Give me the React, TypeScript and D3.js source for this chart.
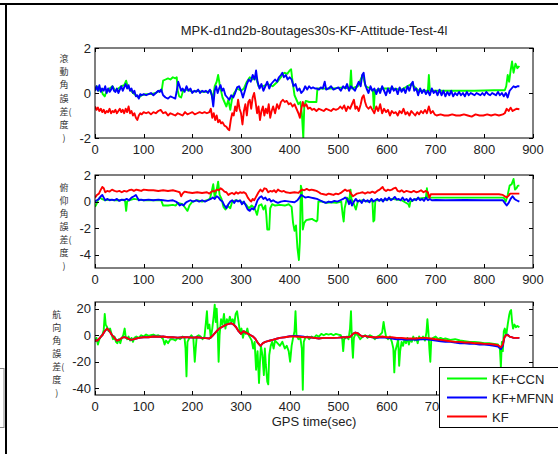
import { useRef, useEffect } from 'react';
import * as d3 from 'd3';

const TITLE = 'MPK-d1nd2b-8outages30s-KF-Attitude-Test-4l';
const X_LABEL = 'GPS time(sec)';
const X_TICKS = [0, 100, 200, 300, 400, 500, 600, 700, 800, 900];
const SERIES_NAMES = ['KF+CCN', 'KF+MFNN', 'KF'];
const SERIES_COLORS = ['#00ff00', '#0000ff', '#ff0000'];

// one entry per stacked row of the vertical axis label
const ROLL_LABEL = ['滾', '動', '角', '誤', '差(', '度', ')'];
const PITCH_LABEL = ['俯', '仰', '角', '誤', '差(', '度', ')'];
const YAW_LABEL = ['航', '向', '角', '誤', '差(', '度', ')'];

const ROLL_Y_TICKS = [-2, 0, 2];
const PITCH_Y_TICKS = [-4, -2, 0, 2];
const YAW_Y_TICKS = [-40, -20, 0, 20];

// [time, error] pairs
const rollCCN = [
  [0, 0.1], [4, 0.3], [8, 0.1], [12, 0.2], [16, -0.05], [20, -0.15], [24, 0.1], [30, 0.2], [36, 0.3], [42, 0.1],
  [48, 0.2], [54, 0.3], [60, 0.35], [64, 0.55], [67, 0.3], [72, 0.15], [78, 0.0], [84, -0.1], [90, -0.2], [96, -0.1],
  [105, -0.05], [115, -0.05], [125, 0.0], [132, 0.1], [137, 0.1], [140, 0.55], [145, 0.6], [150, 0.65], [155, 0.6], [160, 0.7],
  [165, 0.65], [168, 0.7], [170, 0.1], [173, -0.15], [177, -0.2], [181, 0.1], [190, 0.15], [200, 0.05], [210, 0.1], [220, 0.05],
  [230, 0.05], [238, 0.1], [242, -0.3], [246, 0.3], [250, 0.5], [253, 0.8], [256, 0.4], [259, 0.1], [262, -0.2], [266, -0.4],
  [270, -0.6], [274, -0.3], [278, -0.75], [282, -0.2], [286, 0.0], [292, 0.2], [300, 0.1], [306, 0.2], [312, 0.5], [318, 0.7],
  [324, 0.6], [330, 0.75], [336, 0.3], [345, 0.3], [355, 0.4], [365, 0.3], [375, 0.5], [382, 0.7], [386, 0.85], [390, 0.9],
  [395, 0.85], [400, 1.0], [403, 1.05], [406, 0.5], [410, -0.1], [414, -0.3], [418, -0.5], [422, -0.4], [425, -0.9], [428, -2.0],
  [430, -0.6], [433, -0.35], [440, -0.4], [448, -0.4], [455, -0.4], [457, 0.2], [470, 0.2], [490, 0.2], [510, 0.25], [522, 0.2],
  [524, 0.3], [526, 1.0], [528, 0.2], [540, 0.3], [550, 0.8], [556, 0.3], [566, 0.2], [571, 0.1], [573, -0.7], [575, 0.1],
  [590, 0.2], [610, 0.2], [630, 0.15], [650, 0.4], [665, 0.1], [680, 0.1], [684, 0.1], [686, 0.8], [688, 0.1], [700, 0.1],
  [740, 0.1], [780, 0.1], [820, 0.12], [842, 0.12], [845, 0.3], [848, 0.8], [851, 0.5], [854, 1.0], [857, 1.4], [860, 0.9],
  [864, 1.3], [868, 1.1], [872, 1.2],
];
const rollMFNN = [
  [0, 0.1], [3, 0.3], [6, 0.1], [9, 0.35], [12, 0.05], [15, 0.2], [18, 0.1], [21, 0.3], [24, 0.0], [27, 0.2],
  [30, 0.05], [33, 0.15], [36, 0.3], [39, 0.1], [42, 0.05], [45, 0.2], [48, 0.0], [51, 0.15], [54, 0.3], [57, 0.1],
  [60, 0.25], [63, 0.4], [66, 0.2], [69, 0.35], [72, 0.1], [75, 0.2], [78, 0.0], [81, 0.1], [84, -0.15], [87, -0.1],
  [90, -0.25], [93, -0.05], [96, -0.1], [100, -0.05], [105, -0.1], [110, -0.05], [115, 0.0], [120, -0.1], [125, 0.0], [130, 0.1],
  [133, 0.05], [136, 0.15], [140, -0.1], [145, -0.2], [150, -0.25], [155, -0.15], [160, -0.2], [165, -0.25], [168, 0.1], [171, 0.5],
  [174, 0.3], [177, 0.1], [180, 0.2], [184, 0.05], [188, 0.3], [192, 0.1], [196, 0.2], [200, 0.0], [204, 0.1], [208, 0.05],
  [212, 0.15], [216, 0.0], [220, 0.1], [224, 0.05], [228, 0.1], [232, 0.0], [236, 0.15], [240, -0.1], [243, -0.6], [246, 0.1],
  [249, 0.3], [252, 0.0], [255, 0.2], [258, 0.35], [261, 0.1], [264, 0.2], [268, -0.1], [272, -0.2], [276, -0.3], [280, -0.1],
  [284, -0.2], [288, 0.0], [292, 0.25], [296, 0.3], [300, 0.1], [304, -0.2], [308, 0.1], [312, 0.4], [316, 0.6], [320, 0.5],
  [324, 0.8], [328, 0.6], [331, 1.0], [334, 0.5], [338, 0.2], [342, 0.4], [346, 0.1], [350, 0.3], [354, 0.5], [358, 0.2],
  [362, 0.4], [366, 0.5], [370, 0.6], [374, 0.5], [378, 0.7], [382, 0.8], [385, 0.9], [388, 0.7], [392, 0.8], [396, 0.6],
  [400, 0.7], [404, 0.6], [408, 0.3], [412, 0.4], [416, 0.1], [420, 0.2], [424, 0.0], [428, 0.1], [432, 0.3], [436, 0.15],
  [440, 0.3], [444, 0.2], [448, 0.25], [452, 0.2], [456, 0.2], [460, 0.15], [464, 0.25], [468, 0.2], [472, 0.5], [475, 0.15],
  [480, 0.2], [485, 0.3], [490, 0.15], [495, 0.2], [500, 0.25], [505, 0.1], [510, 0.3], [514, 0.2], [518, 0.4], [522, 0.1],
  [526, 0.3], [530, 0.2], [534, 0.1], [538, 0.3], [542, 0.5], [546, 0.3], [549, 0.8], [552, 0.9], [555, 0.4], [558, 0.2],
  [562, 0.0], [566, 0.3], [570, 0.1], [574, 0.2], [578, -0.05], [582, 0.2], [586, 0.0], [590, 0.3], [594, 0.1], [598, -0.1],
  [602, 0.2], [606, 0.0], [610, 0.3], [614, 0.1], [618, 0.2], [622, -0.05], [626, 0.25], [630, 0.05], [634, 0.2], [638, 0.0],
  [642, 0.3], [646, 0.1], [650, 0.4], [653, 0.5], [656, 0.1], [660, 0.2], [664, -0.1], [668, 0.2], [672, 0.0], [676, 0.15],
  [680, -0.05], [684, 0.1], [688, -0.1], [692, 0.2], [696, 0.0], [700, 0.1], [704, -0.1], [708, 0.15], [712, -0.1], [716, 0.1],
  [720, -0.15], [724, 0.05], [728, -0.1], [732, 0.1], [736, -0.15], [740, 0.0], [744, -0.1], [748, 0.05], [752, -0.1], [756, 0.0],
  [760, -0.15], [764, 0.05], [768, -0.1], [772, 0.0], [776, -0.05], [780, -0.1], [784, 0.0], [788, -0.05], [792, -0.1], [796, 0.0],
  [800, -0.1], [804, 0.05], [808, -0.05], [812, -0.1], [816, 0.0], [820, -0.05], [824, -0.1], [828, 0.05], [832, -0.1], [836, 0.0],
  [840, -0.15], [844, 0.0], [848, -0.2], [852, 0.1], [856, 0.2], [860, 0.3], [864, 0.25], [868, 0.3], [872, 0.3],
];
const rollKF = [
  [0, -0.6], [3, -0.75], [6, -0.65], [9, -0.8], [12, -0.7], [15, -0.85], [18, -0.75], [21, -0.9], [24, -0.8], [27, -0.85],
  [30, -0.7], [33, -0.9], [36, -0.8], [39, -0.85], [42, -0.75], [45, -0.9], [48, -0.8], [51, -0.7], [54, -0.85], [57, -0.75],
  [60, -0.9], [63, -0.7], [66, -0.85], [69, -0.6], [72, -0.9], [75, -0.8], [78, -1.0], [81, -0.9], [84, -1.1], [87, -1.2],
  [90, -1.0], [93, -0.9], [96, -0.95], [100, -0.85], [105, -0.9], [110, -0.85], [115, -0.95], [120, -0.85], [125, -0.9], [130, -0.8],
  [135, -0.75], [140, -0.9], [145, -0.85], [150, -1.0], [155, -0.9], [160, -0.95], [165, -1.0], [170, -0.9], [175, -0.95], [180, -1.0],
  [185, -0.85], [190, -0.95], [195, -0.9], [200, -0.85], [205, -0.95], [210, -0.9], [215, -0.85], [220, -0.9], [225, -0.85], [230, -0.9],
  [235, -0.85], [238, -0.7], [241, -1.1], [244, -0.9], [247, -1.2], [250, -1.0], [253, -1.3], [256, -1.2], [259, -1.35], [262, -1.3],
  [266, -1.45], [270, -1.5], [273, -1.6], [276, -1.65], [279, -1.2], [282, -0.9], [285, -1.0], [288, -0.6], [291, -0.8], [294, -0.3],
  [297, -0.7], [300, -0.9], [303, -1.4], [306, -0.8], [309, -0.5], [312, -1.0], [315, -0.4], [318, -0.3], [321, -0.7], [324, -0.2],
  [327, 0.0], [330, -0.4], [333, -0.9], [336, -0.6], [339, -1.2], [342, -0.8], [345, -0.6], [348, -1.0], [351, -0.7], [354, -0.9],
  [357, -0.5], [360, -1.1], [363, -0.8], [366, -0.6], [370, -0.9], [374, -0.5], [378, -0.7], [382, -0.4], [386, -0.3], [390, -0.4],
  [394, -0.35], [398, -0.5], [402, -0.45], [406, -0.6], [410, -0.5], [414, -0.7], [418, -0.9], [421, -1.1], [424, -0.7], [427, -0.4],
  [430, -0.6], [434, -0.5], [438, -0.7], [442, -0.65], [446, -0.75], [450, -0.7], [455, -0.8], [460, -0.7], [465, -0.75], [470, -0.8],
  [475, -0.7], [480, -0.75], [485, -0.8], [490, -0.7], [495, -0.75], [500, -0.7], [504, -0.6], [508, -0.7], [512, -0.55], [516, -0.8],
  [520, -0.6], [524, -0.7], [528, -0.5], [532, -0.3], [535, -0.7], [538, -0.6], [542, -0.8], [546, -0.5], [549, -0.2], [552, -0.1],
  [555, -0.4], [558, -0.6], [562, -0.7], [566, -0.6], [570, -0.75], [574, -0.9], [578, -0.6], [582, -0.8], [586, -0.5], [590, -0.9],
  [594, -0.7], [598, -0.85], [602, -0.75], [606, -1.0], [610, -0.8], [614, -0.9], [618, -0.85], [622, -1.0], [626, -0.8], [630, -0.9],
  [634, -0.7], [638, -0.95], [642, -0.85], [646, -1.0], [650, -0.8], [654, -0.9], [658, -1.0], [662, -0.85], [666, -0.95], [670, -0.8],
  [674, -0.9], [678, -0.75], [682, -0.9], [686, -0.6], [690, -0.9], [694, -0.8], [698, -0.95], [702, -1.0], [710, -0.95], [718, -1.0],
  [726, -1.0], [734, -0.95], [742, -1.0], [750, -1.0], [758, -0.95], [766, -1.0], [774, -1.05], [782, -0.95], [790, -1.0], [798, -1.0],
  [806, -0.95], [814, -1.0], [822, -0.95], [830, -1.0], [838, -0.95], [842, -0.9], [846, -0.7], [850, -0.8], [854, -0.65], [858, -0.8],
  [862, -0.75], [866, -0.7], [872, -0.72],
];

const pitchCCN = [
  [0, -0.4], [3, -0.2], [6, 0.1], [10, 0.3], [14, 0.2], [20, 0.1], [30, 0.15], [40, 0.1], [50, 0.1], [60, 0.15],
  [62, 0.0], [64, -0.7], [66, 0.0], [70, 0.1], [80, 0.2], [90, 0.15], [100, 0.1], [120, 0.1], [136, 0.1], [140, -0.3],
  [150, -0.3], [160, -0.25], [166, -0.3], [170, -0.1], [180, -0.2], [186, -0.5], [190, -0.7], [194, -0.3], [200, 0.0], [210, 0.1],
  [220, 0.0], [230, 0.1], [236, 0.2], [240, 0.8], [243, 1.3], [246, 0.3], [250, 0.9], [253, 1.5], [256, 0.5], [260, 0.2],
  [264, -0.4], [268, -0.6], [272, -0.3], [278, -0.5], [282, 0.0], [290, 0.1], [300, 0.0], [310, -0.2], [316, -0.5], [322, -0.3],
  [328, -0.5], [333, -1.0], [337, -0.3], [342, -0.2], [346, -0.6], [350, -0.3], [352, -1.0], [354, -2.1], [358, -2.1], [360, -0.5],
  [364, -0.2], [370, -0.3], [380, -0.25], [390, -0.3], [398, -0.2], [404, -0.4], [407, -1.6], [410, -2.2], [413, -1.8], [416, -3.5],
  [419, -4.4], [421, -3.0], [423, 1.2], [425, 0.9], [427, -2.1], [430, -1.6], [434, -1.4], [440, -1.35], [446, -1.3], [450, -1.4],
  [455, -1.5], [457, -1.4], [459, 0.0], [466, 0.0], [476, -0.1], [486, -0.05], [496, -0.1], [506, 0.0], [509, -1.0], [511, -1.5],
  [513, -0.5], [518, 0.3], [522, 0.0], [525, 0.9], [527, 0.2], [532, -0.2], [536, -0.6], [540, 0.0], [550, 0.1], [560, 0.0],
  [570, 0.1], [572, -1.5], [574, -1.4], [576, 0.1], [590, 0.1], [610, 0.2], [630, 0.1], [644, -0.2], [646, -0.4], [648, 0.0],
  [660, 0.2], [680, 0.3], [682, 1.0], [684, 0.3], [690, 0.3], [720, 0.3], [760, 0.3], [800, 0.3], [840, 0.3], [844, 0.0],
  [848, 0.5], [852, 1.2], [856, 1.3], [860, 1.7], [863, 0.9], [866, 1.0], [869, 1.2], [872, 1.2],
];
const pitchMFNN = [
  [0, 0.0], [4, 0.1], [8, 0.2], [12, 0.4], [15, 0.5], [18, 0.3], [21, 0.1], [25, 0.2], [30, 0.1], [35, 0.15],
  [40, 0.1], [45, 0.2], [50, 0.05], [55, 0.15], [60, 0.1], [65, 0.2], [70, 0.1], [75, 0.3], [80, 0.4], [84, 0.5],
  [87, 0.3], [90, 0.1], [95, 0.15], [100, 0.1], [110, 0.15], [120, 0.1], [130, 0.15], [140, 0.1], [150, 0.05], [160, 0.1],
  [166, 0.0], [170, -0.1], [174, -0.3], [178, -0.2], [182, -0.3], [186, -0.1], [190, 0.0], [196, 0.1], [202, 0.0], [208, 0.1],
  [214, 0.0], [220, 0.1], [226, 0.0], [232, 0.1], [238, 0.2], [242, 0.3], [246, 0.2], [250, 0.4], [254, 0.3], [258, 0.1],
  [262, 0.0], [266, -0.3], [270, -0.5], [274, -0.2], [278, 0.0], [282, 0.1], [286, -0.1], [290, 0.1], [294, 0.0], [298, 0.1],
  [302, -0.2], [306, 0.0], [310, -0.3], [314, -0.6], [318, -0.7], [322, -0.5], [326, -0.6], [330, -0.3], [334, 0.1], [338, 0.3],
  [342, 0.4], [346, 0.2], [350, 0.3], [354, 0.1], [358, 0.2], [362, 0.0], [366, 0.1], [370, 0.0], [376, -0.1], [382, 0.0],
  [390, 0.05], [400, 0.0], [410, -0.05], [416, 0.1], [420, 0.3], [424, 0.5], [428, 0.4], [432, 0.3], [438, 0.35], [444, 0.3],
  [450, 0.25], [456, 0.2], [462, 0.1], [468, 0.0], [474, -0.1], [480, 0.0], [486, -0.05], [492, 0.05], [498, 0.0], [504, 0.1],
  [510, 0.2], [514, 0.3], [518, 0.2], [522, -0.2], [525, 0.1], [528, -0.3], [532, 0.0], [536, 0.2], [540, 0.0], [544, 0.1],
  [548, -0.1], [552, 0.15], [556, 0.0], [560, 0.1], [564, -0.05], [568, 0.2], [572, 0.0], [576, 0.1], [580, 0.2], [584, 0.05],
  [588, 0.2], [592, 0.0], [596, 0.25], [600, 0.1], [604, 0.3], [608, 0.1], [612, 0.2], [616, 0.35], [620, 0.15], [624, 0.2],
  [628, 0.1], [632, 0.3], [636, 0.1], [640, 0.2], [644, 0.0], [648, 0.25], [652, 0.05], [656, 0.2], [660, 0.1], [664, 0.3],
  [668, 0.1], [672, 0.2], [676, 0.05], [680, 0.3], [684, 0.1], [688, 0.2], [692, 0.1], [700, 0.12], [720, 0.1], [760, 0.12],
  [800, 0.1], [838, 0.1], [842, -0.1], [846, -0.3], [850, -0.1], [854, 0.2], [858, 0.4], [862, 0.2], [866, 0.1], [872, 0.0],
];
const pitchKF = [
  [0, 0.3], [4, 0.5], [8, 0.6], [12, 0.9], [15, 1.1], [18, 1.0], [21, 0.7], [25, 0.8], [30, 0.75], [35, 0.9],
  [40, 0.8], [45, 0.75], [50, 0.8], [55, 0.7], [60, 0.8], [65, 0.75], [70, 0.85], [75, 0.9], [80, 0.8], [85, 0.9],
  [90, 0.85], [95, 0.8], [100, 0.9], [110, 0.85], [120, 0.85], [130, 0.8], [140, 0.85], [150, 0.8], [160, 0.85], [170, 0.75],
  [174, 0.7], [177, 0.4], [180, 0.6], [184, 0.75], [190, 0.7], [200, 0.65], [210, 0.7], [220, 0.65], [230, 0.7], [235, 0.6],
  [238, 0.7], [242, 0.8], [246, 0.75], [250, 0.9], [255, 0.85], [258, 1.0], [262, 0.9], [266, 0.75], [270, 0.7], [274, 0.5],
  [278, 0.6], [282, 0.65], [286, 0.55], [290, 0.7], [294, 0.6], [298, 0.7], [302, 0.65], [306, 0.7], [310, 0.6], [314, 0.3],
  [318, 0.1], [321, 0.0], [324, 0.2], [327, 0.1], [330, 0.3], [333, 0.5], [336, 0.7], [340, 0.9], [344, 0.75], [348, 1.0],
  [352, 0.95], [356, 0.7], [360, 0.8], [364, 0.75], [368, 0.85], [372, 0.7], [376, 0.9], [380, 0.8], [384, 0.75], [388, 0.8],
  [392, 0.7], [400, 0.65], [410, 0.7], [418, 0.65], [422, 0.8], [426, 0.9], [430, 0.85], [435, 0.95], [440, 0.85], [445, 0.9],
  [450, 0.85], [455, 0.8], [460, 0.7], [464, 0.6], [470, 0.55], [475, 0.5], [480, 0.6], [485, 0.55], [490, 0.5], [495, 0.6],
  [500, 0.55], [505, 0.65], [510, 0.8], [514, 0.9], [518, 0.8], [522, 0.85], [526, 0.6], [530, 0.4], [534, 0.5], [538, 0.6],
  [545, 0.65], [550, 0.7], [555, 0.6], [560, 0.7], [565, 0.65], [570, 0.75], [575, 0.65], [580, 0.8], [585, 0.9], [588, 1.0],
  [591, 1.1], [594, 0.9], [598, 0.8], [602, 0.9], [606, 0.85], [610, 0.9], [614, 1.0], [618, 1.05], [622, 0.8], [626, 0.75],
  [630, 0.85], [635, 0.7], [640, 0.8], [645, 0.75], [650, 0.7], [655, 0.8], [660, 0.7], [665, 0.75], [670, 0.85], [675, 0.7],
  [680, 0.8], [684, 0.7], [687, 0.3], [690, 0.55], [700, 0.55], [720, 0.55], [760, 0.55], [800, 0.55], [830, 0.55], [838, 0.5],
  [842, 0.4], [846, 0.3], [850, 0.45], [853, 0.6], [860, 0.6], [872, 0.6],
];

const yawCCN = [
  [0, -5], [3, -2], [6, -7], [9, -3], [12, -1], [15, 0], [18, 4], [20, 16], [22, 8], [25, 6],
  [28, 3], [31, 5], [34, 1], [37, -3], [40, -1], [43, -5], [46, -6], [49, -3], [52, -6], [55, -2],
  [58, 0], [61, 5], [63, -1], [66, -3], [69, -1], [72, -4], [75, -2], [78, -5], [81, -2], [85, -1],
  [90, -2], [95, 0], [100, -1], [105, 0.5], [110, -0.5], [115, 0], [120, 0.5], [125, -0.5], [130, 0], [135, -1],
  [140, -3], [143, -7], [146, -4], [150, -6], [155, -3], [160, -3], [165, -4], [170, -2], [175, -3], [180, -1],
  [184, -2], [186, -10], [188, -31], [190, -5], [194, -2], [198, 0], [202, -2], [205, -20], [207, -10], [209, -1],
  [213, 0], [217, -1], [221, -3], [225, -1], [228, 10], [230, 18], [232, 5], [235, 8], [238, -2], [241, 5],
  [244, 15], [246, 23], [248, 10], [250, 20], [252, 5], [254, -20], [256, 0], [259, 12], [262, 8], [265, 16],
  [268, 5], [271, 12], [274, 9], [277, 14], [280, 10], [283, 12], [286, 8], [289, 16], [292, 18], [295, 10],
  [298, 2], [301, 5], [304, -2], [307, 3], [310, 1], [313, 5], [316, 0], [319, -2], [322, -4], [325, -10],
  [328, -5], [331, -26], [334, -12], [337, -36], [339, -20], [341, -8], [344, -15], [347, -30], [349, -10], [351, -22],
  [354, -35], [356, -37], [358, -15], [361, -8], [364, -5], [367, -10], [370, -4], [375, -6], [380, -8], [385, -5],
  [390, -10], [394, -8], [398, -12], [401, -20], [404, -8], [407, -2], [410, 3], [412, 18], [414, 0], [418, -3],
  [422, -2], [425, -10], [427, -41], [429, -5], [432, -2], [436, -1], [440, -3], [445, -1], [450, -2], [455, 0],
  [460, -1], [465, 1], [470, 0], [475, 1], [480, 0.5], [485, 1], [490, 0], [495, 1], [500, 0.5], [505, 0],
  [508, -3], [510, -12], [512, -3], [515, -2], [518, -1], [521, -3], [524, 5], [526, 18], [528, -5], [530, -17],
  [532, -2], [535, 1], [540, 0], [545, -3], [550, -1], [555, 0], [560, -2], [565, 0], [570, -1], [575, -3],
  [580, -1], [585, 0], [590, 2], [593, 10], [595, 5], [598, -1], [602, -3], [606, -1], [610, -5], [613, -10],
  [615, -28], [617, -12], [620, -8], [623, -3], [625, -23], [627, -12], [630, -5], [633, -8], [636, -3], [639, -6],
  [642, -2], [645, -7], [648, -3], [651, -5], [654, -1], [657, -4], [660, -2], [663, -6], [666, -1], [670, -3],
  [674, -1], [678, -4], [681, 2], [683, 12], [685, 3], [687, -10], [689, -20], [691, -3], [695, -2], [700, -1],
  [705, -3], [710, -2], [715, -3], [720, -2.5], [730, -3.5], [740, -3], [750, -4], [760, -4.5], [770, -5], [780, -5],
  [790, -5.5], [800, -6], [810, -6], [820, -6.5], [828, -7], [832, -10], [834, -24], [836, -5], [838, -12], [840, 3],
  [842, 5], [845, 0], [848, 8], [851, 15], [853, 18], [855, 19], [857, 10], [859, 5], [862, 8], [865, 6],
  [868, 7], [872, 6],
];
const yawMFNN = [
  [0, -4], [5, -4], [10, -2], [15, 0], [20, 3], [25, 5], [30, 3], [35, 0], [40, -2], [45, -4],
  [50, -3.5], [55, -2], [60, -1.5], [65, -2], [70, -3], [75, -3.5], [80, -3], [85, -2.5], [90, -2], [100, -1.5],
  [110, -1.5], [120, -1], [130, -1.2], [140, -1], [150, -1.5], [160, -1.5], [170, -1.8], [180, -1.5], [190, -1.5], [200, -1.8],
  [210, -1.5], [220, -2], [228, -2.2], [235, -2.5], [240, -1], [245, 1], [250, 3], [255, 5], [260, 6], [265, 7],
  [270, 8], [275, 8.5], [280, 9], [285, 8], [290, 6], [295, 3], [300, 1], [305, 3], [310, 2], [315, 1],
  [320, 0], [325, -1], [330, -3], [335, -6], [340, -8], [345, -6], [350, -5], [355, -4.5], [360, -4], [365, -3.5],
  [370, -3], [375, -2.5], [380, -2], [390, -1.5], [400, -0.8], [410, -0.5], [420, -0.8], [430, -1.2], [440, -1.5], [450, -2],
  [460, -2.5], [470, -2], [480, -2], [490, -2], [500, -1.8], [510, -1.5], [520, -1.5], [525, -1], [530, 1], [535, 2],
  [540, 1.5], [545, 0], [550, -1], [555, -0.5], [560, -1], [570, -1.5], [580, -2], [590, -1.5], [600, -2], [610, -2.5],
  [620, -3], [630, -3], [640, -3.5], [650, -3], [660, -3.5], [670, -3], [680, -3], [690, -3.5], [700, -4], [710, -4.5],
  [720, -5], [730, -5], [740, -5.5], [750, -6], [760, -6], [770, -6.5], [780, -6.5], [790, -7], [800, -7], [810, -7.5],
  [820, -8], [828, -8.5], [834, -10.5], [838, -8], [841, -2], [844, 0], [848, 0.5], [852, -1], [856, -1.5], [860, -2],
  [866, -2], [872, -2],
];
const yawKF = [
  [0, -4], [5, -4], [10, -2], [15, 0], [20, 3], [25, 5], [30, 3], [35, 0], [40, -2], [45, -4],
  [50, -3.5], [55, -2], [60, -1.5], [65, -2], [70, -3], [75, -3.5], [80, -3], [85, -2.5], [90, -2], [100, -1.5],
  [110, -1.5], [120, -1], [130, -1.2], [140, -1], [150, -1.5], [160, -1.5], [170, -1.8], [180, -1.5], [190, -1.5], [200, -1.8],
  [210, -1.5], [220, -2], [228, -2.2], [235, -2.5], [240, -1], [245, 1], [250, 3], [255, 5], [260, 6], [265, 7],
  [270, 8], [275, 8.5], [280, 9], [285, 8], [290, 6], [295, 3], [300, 1], [305, 3], [310, 2], [315, 1],
  [320, 0], [325, -1], [330, -3], [335, -6], [340, -8], [345, -6], [350, -5], [355, -4.5], [360, -4], [365, -3.5],
  [370, -3], [375, -2.5], [380, -2], [390, -1.5], [400, -1], [410, -1], [420, -1.2], [430, -1.5], [440, -1.5], [450, -2],
  [460, -2.5], [470, -2], [480, -2], [490, -2], [500, -1.8], [510, -1.5], [520, -1.5], [525, -1], [530, 1], [535, 2],
  [540, 1.5], [545, 0], [550, -1], [555, -0.5], [560, -1], [570, -1.5], [580, -1.5], [590, -1], [600, -1.5], [610, -1.5],
  [620, -2], [630, -2], [640, -2.5], [650, -2.5], [660, -2.5], [670, -2], [680, -2], [690, -2.5], [700, -3], [710, -3.5],
  [720, -4], [730, -4.5], [740, -5], [750, -5], [760, -5.5], [770, -5.5], [780, -6], [790, -6], [800, -6.5], [810, -6.5],
  [820, -7], [828, -7.5], [834, -9], [838, -7], [841, -2], [844, 0], [848, 0], [852, -1], [856, -1.5], [860, -2],
  [866, -2], [872, -2],
];

const PANELS = [
  { label: ROLL_LABEL, domain: [-2, 2], ticks: ROLL_Y_TICKS, series: [rollCCN, rollMFNN, rollKF], top: 48, bottom: 138 },
  { label: PITCH_LABEL, domain: [-5, 2], ticks: PITCH_Y_TICKS, series: [pitchCCN, pitchMFNN, pitchKF], top: 175, bottom: 268 },
  { label: YAW_LABEL, domain: [-45, 25], ticks: YAW_Y_TICKS, series: [yawCCN, yawMFNN, yawKF], top: 302, bottom: 395 },
];

const FONT = '"Liberation Sans", Arial, Helvetica, sans-serif';
const CJK = '"Noto Sans CJK TC", "Noto Sans CJK SC", sans-serif';

const AttitudeChart = () => {
  const svgRef = useRef(null);

  useEffect(() => {
    document.body.style.margin = '0';
    const svg = d3.select(svgRef.current);
    svg.selectAll('*').remove();

    const W = 558, H = 454;
    const LEFT = 95, RIGHT = 533;
    const TICK = 4;
    const LEGEND_LEFT = 439;

    svg.append('rect').attr('width', W).attr('height', H).attr('fill', '#fff');

    // page borders around the figure
    svg.append('rect').attr('x', 0).attr('y', 3).attr('width', W).attr('height', 2).attr('fill', '#000');
    svg.append('rect').attr('x', 5).attr('y', 3).attr('width', 2).attr('height', H).attr('fill', '#000');
    svg.append('rect').attr('x', -2).attr('y', 368.5).attr('width', 6).attr('height', 59)
      .attr('fill', '#fff').attr('stroke', '#888').attr('stroke-width', 1);

    const x = d3.scaleLinear().domain([0, 900]).range([LEFT, RIGHT]);

    svg.append('text')
      .attr('x', (LEFT + RIGHT) / 2).attr('y', 35)
      .attr('text-anchor', 'middle').attr('font-family', FONT).attr('font-size', 13)
      .attr('fill', '#222').text(TITLE);

    PANELS.forEach((p, pi) => {
      const y = d3.scaleLinear().domain(p.domain).range([p.bottom, p.top]);
      const g = svg.append('g');
      const isLast = pi === PANELS.length - 1;

      const clipId = `clip-${pi}`;
      svg.append('defs').append('clipPath').attr('id', clipId)
        .append('rect').attr('x', LEFT).attr('y', p.top)
        .attr('width', RIGHT - LEFT).attr('height', p.bottom - p.top);

      const line = d3.line()
        .x(d => x(d[0]))
        .y(d => y(d[1]));

      p.series.forEach((s, si) => {
        g.append('path')
          .attr('d', line(s))
          .attr('fill', 'none')
          .attr('stroke', SERIES_COLORS[si])
          .attr('stroke-width', 1.9)
          .attr('stroke-linejoin', 'round')
          .attr('clip-path', `url(#${clipId})`);
      });

      // box and inward ticks, MATLAB style
      g.append('rect')
        .attr('x', LEFT).attr('y', p.top)
        .attr('width', RIGHT - LEFT).attr('height', p.bottom - p.top)
        .attr('fill', 'none').attr('stroke', '#000').attr('stroke-width', 1);

      X_TICKS.forEach(t => {
        const xx = Math.round(x(t)) + 0.5;
        g.append('line').attr('x1', xx).attr('x2', xx).attr('y1', p.bottom).attr('y2', p.bottom - TICK).attr('stroke', '#000');
        g.append('line').attr('x1', xx).attr('x2', xx).attr('y1', p.top).attr('y2', p.top + TICK).attr('stroke', '#000');
        // labels fully under the legend are not drawn
        if (isLast && x(t) - 10 > LEGEND_LEFT) return;
        g.append('text')
          .attr('x', x(t)).attr('y', p.bottom + 16)
          .attr('text-anchor', 'middle').attr('font-family', FONT).attr('font-size', 13)
          .attr('fill', '#222').text(t);
      });

      let widest = 0;
      p.ticks.forEach(t => {
        const yy = Math.round(y(t)) + 0.5;
        g.append('line').attr('x1', LEFT).attr('x2', LEFT + TICK).attr('y1', yy).attr('y2', yy).attr('stroke', '#000');
        g.append('line').attr('x1', RIGHT).attr('x2', RIGHT - TICK).attr('y1', yy).attr('y2', yy).attr('stroke', '#000');
        const lbl = g.append('text')
          .attr('x', LEFT - 4).attr('y', y(t) + 4.5)
          .attr('text-anchor', 'end').attr('font-family', FONT).attr('font-size', 13)
          .attr('fill', '#222').text(t);
        widest = Math.max(widest, lbl.node().getComputedTextLength());
      });

      // stacked label left of the widest tick label, one row per entry
      const STEP = 13.1;
      const labelRight = LEFT - 4 - widest - 6;
      const cy = (p.top + p.bottom) / 2 + 5;
      const n = p.label.length;
      const label = g.append('text')
        .attr('font-family', CJK)
        .attr('font-size', 9)
        .attr('fill', '#333');
      p.label.forEach((row, i) => {
        label.append('tspan')
          .attr('x', labelRight - (row === ')' ? 11 : 14))
          .attr('y', cy + (i - (n - 1) / 2) * STEP + 3.5)
          .text(row);
      });
    });

    svg.append('text')
      .attr('x', (LEFT + RIGHT) / 2).attr('y', 426)
      .attr('text-anchor', 'middle').attr('font-family', FONT).attr('font-size', 13)
      .attr('fill', '#222').text(X_LABEL);

    // legend
    const lg = svg.append('g');
    lg.append('rect').attr('x', LEGEND_LEFT + 0.5).attr('y', 367.5).attr('width', 140).attr('height', 60)
      .attr('fill', '#fff').attr('stroke', '#000').attr('stroke-width', 1);
    SERIES_NAMES.forEach((name, i) => {
      const yy = 378.5 + i * 19;
      lg.append('line').attr('x1', 447).attr('x2', 487).attr('y1', yy).attr('y2', yy)
        .attr('stroke', SERIES_COLORS[i]).attr('stroke-width', 2);
      lg.append('text').attr('x', 492).attr('y', yy + 5)
        .attr('font-family', FONT).attr('font-size', 13).attr('fill', '#222').text(name);
    });
  }, []);

  return <svg ref={svgRef} width={558} height={454} style={{ display: 'block' }} />;
};

export default function App() {
  return <AttitudeChart />;
}
